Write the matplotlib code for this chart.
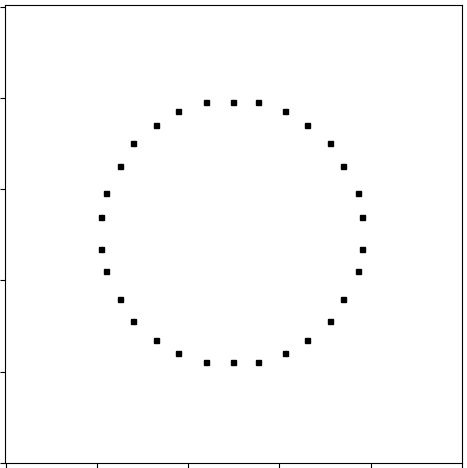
import matplotlib
matplotlib.use("Agg")
import matplotlib.pyplot as plt

# points around the ring, clockwise from the top
x_vals = [2.19, 2.49, 2.76, 3.06, 3.30, 3.55, 3.70, 3.86, 3.90,
          3.90, 3.86, 3.70, 3.55, 3.30, 3.06, 2.76, 2.49, 2.19,
          1.89, 1.65, 1.40, 1.25, 1.10, 1.05, 1.05, 1.10, 1.25,
          1.40, 1.65, 1.89]
y_vals = [3.96, 3.96, 3.96, 3.86, 3.71, 3.51, 3.26, 2.96, 2.70,
          2.35, 2.10, 1.80, 1.55, 1.35, 1.20, 1.10, 1.10, 1.10,
          1.20, 1.35, 1.55, 1.80, 2.10, 2.35, 2.70, 2.96, 3.26,
          3.51, 3.71, 3.86]
ticks = [0, 1, 2, 3, 4, 5]

fig = plt.figure(figsize=(4.67, 4.68), dpi=100)
ax = fig.add_axes([4.5 / 467, 5.3 / 468, 457.5 / 467, 457.9 / 468])
ax.plot(x_vals, y_vals, linestyle='none', marker='s', markersize=3.6, color='black')

ax.set_xlim(-0.012, 4.978)
ax.set_ylim(0.023, 5.026)
ax.set_xticks(ticks)
ax.set_yticks(ticks)
ax.tick_params(labelleft=False, labelbottom=False)

fig.savefig("out.png", dpi=100)
